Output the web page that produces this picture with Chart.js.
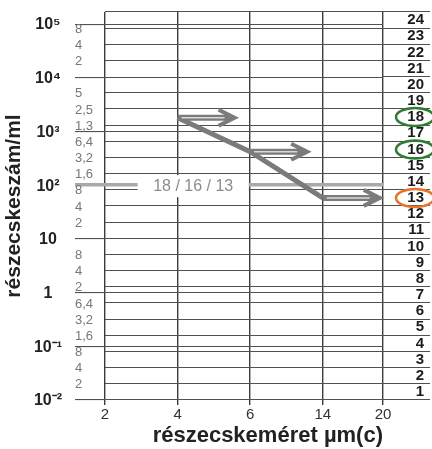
<!DOCTYPE html>
<html>
<head>
<meta charset="utf-8">
<script src="https://cdn.jsdelivr.net/npm/chart.js@4.4.1/dist/chart.umd.min.js"></script>
<style>
  html, body { margin: 0; padding: 0; background: #fff; }
  #wrap { width: 432px; height: 449px; }
</style>
</head>
<body>
<div id="wrap"><canvas id="isoChart"></canvas></div>
<script>
// particle size classes, µm(c), and where each one sits on the (uneven) printed grid
const sizeLabels = ["2", "4", "6", "14", "20"];
const sizeSlots = [0, 1, 2, 3, 3.83];

// measured sample: particles per ml above each size
const measuredSizes = ["4", "6", "14"];
const measuredCounts = [1800, 420, 58];
const measuredCodes = ["18", "16", "13"];

// count axis (particles / ml)
const countTop = 167772.16;
const countBottom = 0.01;
const decadeValues = [1e5, 1e4, 1e3, 100, 10, 1, 0.1, 0.01];
const decadeLabels = ["10⁵", "10⁴", "10³", "10²", "10", "1", "10⁻¹", "10⁻²"];
const minorValues = [83886.08, 41943.04, 20971.52, 5242.88, 2621.44, 1310.72, 655.36, 327.68, 163.84,
  81.92, 40.96, 20.48, 5.12, 2.56, 1.28, 0.64, 0.32, 0.16, 0.08, 0.04, 0.02];
const minorLabels = ["8", "4", "2", "5", "2,5", "1,3", "6,4", "3,2", "1,6",
  "8", "4", "2", "8", "4", "2", "6,4", "3,2", "1,6", "8", "4", "2"];

// ISO 4406 code column, top to bottom
const codeLabels = ["24", "23", "22", "21", "20", "19", "18", "17", "16", "15", "14", "13",
  "12", "11", "10", "9", "8", "7", "6", "5", "4", "3", "2", "1"];
const codeCircleColors = ["#2f7d32", "#2f7d32", "#e8742c"];

const lineGray = "#7b7b7b";
const gridGray = "#505050";
const arrowLength = 57;

Chart.defaults.font.family = '"Liberation Sans", Arial, sans-serif';

// all horizontal lines of the count grid
const countTicks = [{ value: countTop, label: "", decade: false }]
  .concat(decadeValues.map((v) => ({ value: v, label: "", decade: true })))
  .concat(minorValues.map((v, i) => ({ value: v, label: minorLabels[i], decade: false })))
  .sort((a, b) => a.value - b.value);

function fixBox(size) {
  return (scale) => {
    if (scale.isHorizontal()) scale.height = size;
    else scale.width = size;
    scale.paddingTop = 0;
    scale.paddingBottom = 0;
    scale.paddingLeft = 0;
    scale.paddingRight = 0;
  };
}

function drawArrow(ctx, x0, y0, len) {
  const tip = x0 + len;
  ctx.strokeStyle = lineGray;
  ctx.lineWidth = 6;
  ctx.lineCap = "butt";
  ctx.beginPath();
  ctx.moveTo(x0, y0);
  ctx.lineTo(tip - 4, y0);
  ctx.stroke();
  ctx.strokeStyle = "#d9d9d9";
  ctx.lineWidth = 1.5;
  ctx.beginPath();
  ctx.moveTo(x0 + 4, y0);
  ctx.lineTo(tip - 10, y0);
  ctx.stroke();
  ctx.strokeStyle = lineGray;
  ctx.lineWidth = 4;
  ctx.lineJoin = "miter";
  ctx.beginPath();
  ctx.moveTo(tip - 16, y0 - 8);
  ctx.lineTo(tip, y0);
  ctx.lineTo(tip - 16, y0 + 8);
  ctx.stroke();
}

const isoMarks = {
  id: "isoMarks",
  beforeDatasetsDraw(chart) {
    const { ctx, scales: { x, y } } = chart;
    const yy = y.getPixelForValue(100);
    const x1 = x.getPixelForValue(0.45);
    const x2 = x.getPixelForValue(1.98);
    ctx.save();
    ctx.fillStyle = "#fff";
    ctx.fillRect(x1, yy - 10, x2 - x1, 22);
    ctx.font = '16px "Liberation Sans", Arial, sans-serif';
    ctx.fillStyle = "#8c8c8c";
    ctx.textAlign = "center";
    ctx.textBaseline = "middle";
    ctx.fillText(measuredCodes.join(" / "), (x1 + x2) / 2, yy + 1);
    ctx.restore();
  },
  afterDatasetsDraw(chart) {
    const { ctx, chartArea, scales: { code } } = chart;
    const points = chart.getDatasetMeta(0).data;
    ctx.save();
    points.forEach((p) => drawArrow(ctx, p.x, p.y, arrowLength));
    ctx.lineWidth = 2.5;
    measuredCodes.forEach((c, i) => {
      const cy = code.getPixelForValue(codeLabels.indexOf(c));
      ctx.strokeStyle = codeCircleColors[i];
      ctx.beginPath();
      ctx.ellipse(chartArea.right + 32, cy, 19, 9, 0, 0, Math.PI * 2);
      ctx.stroke();
    });
    ctx.restore();
  }
};

new Chart(document.getElementById("isoChart"), {
  type: "line",
  data: {
    datasets: [{
      data: measuredSizes.map((s, i) => ({ x: sizeSlots[sizeLabels.indexOf(s)], y: measuredCounts[i] })),
      borderColor: lineGray,
      borderWidth: 5,
      pointRadius: 0,
      fill: false,
      tension: 0,
      yAxisID: "y"
    }]
  },
  options: {
    responsive: true,
    maintainAspectRatio: false,
    animation: false,
    events: [],
    layout: { padding: { top: 12, right: 8, left: 0, bottom: 0 } },
    plugins: { legend: { display: false }, tooltip: { enabled: false } },
    scales: {
      x: {
        type: "linear",
        min: 0,
        max: sizeSlots[sizeSlots.length - 1],
        afterBuildTicks: (scale) => { scale.ticks = sizeSlots.map((v) => ({ value: v })); },
        afterFit: fixBox(49),
        ticks: {
          autoSkip: false,
          maxRotation: 0,
          padding: 1,
          color: "#333",
          font: { size: 15 },
          callback: (v, i) => sizeLabels[i]
        },
        grid: { color: "#3c3c3c", lineWidth: 1.4, tickLength: 5 },
        border: { display: false },
        title: {
          display: true,
          text: "részecskeméret µm(c)",
          align: "end",
          color: "#222",
          font: { size: 22, weight: "bold" },
          padding: 0
        }
      },
      y: {
        type: "logarithmic",
        position: "left",
        weight: 0,
        min: countBottom,
        max: countTop,
        afterBuildTicks: (scale) => { scale.ticks = countTicks.map((t) => ({ value: t.value })); },
        afterFit: fixBox(30),
        ticks: {
          autoSkip: false,
          crossAlign: "far",
          labelOffset: 1,
          color: "#777",
          font: { size: 13 },
          callback: (v, i) => countTicks[i].label
        },
        grid: {
          tickLength: 30,
          color: (c) => (c.tick && c.tick.value === 100 ? "#a9a9a9" : gridGray),
          lineWidth: (c) => (c.tick && c.tick.value === 100 ? 3.5 : 1.1),
          tickColor: (c) => (countTicks[c.index] && countTicks[c.index].decade
            ? (c.tick.value === 100 ? "#a9a9a9" : gridGray) : "rgba(0,0,0,0)")
        },
        border: { display: false }
      },
      yDec: {
        type: "logarithmic",
        position: "left",
        weight: 1,
        min: countBottom,
        max: countTop,
        afterBuildTicks: (scale) => { scale.ticks = decadeValues.map((v) => ({ value: v })); },
        afterFit: fixBox(75),
        ticks: {
          autoSkip: false,
          crossAlign: "center",
          padding: 13,
          labelOffset: 1,
          color: "#222",
          font: { size: 16, weight: "bold" },
          callback: (v, i) => decadeLabels[i]
        },
        grid: { display: false, drawTicks: false },
        border: { display: false },
        title: {
          display: true,
          text: "részecskeszám/ml",
          color: "#222",
          font: { size: 21, weight: "bold" },
          padding: { top: 2, bottom: 0 }
        }
      },
      code: {
        type: "category",
        position: "right",
        labels: codeLabels,
        offset: true,
        afterFit: fixBox(41),
        ticks: {
          autoSkip: false,
          crossAlign: "far",
          color: "#1c1c1c",
          font: { size: 15, weight: "bold" }
        },
        grid: { offset: true, drawOnChartArea: false, tickLength: 47, color: gridGray, lineWidth: 1.1 },
        border: { display: false }
      }
    }
  },
  plugins: [isoMarks]
});
</script>
</body>
</html>
